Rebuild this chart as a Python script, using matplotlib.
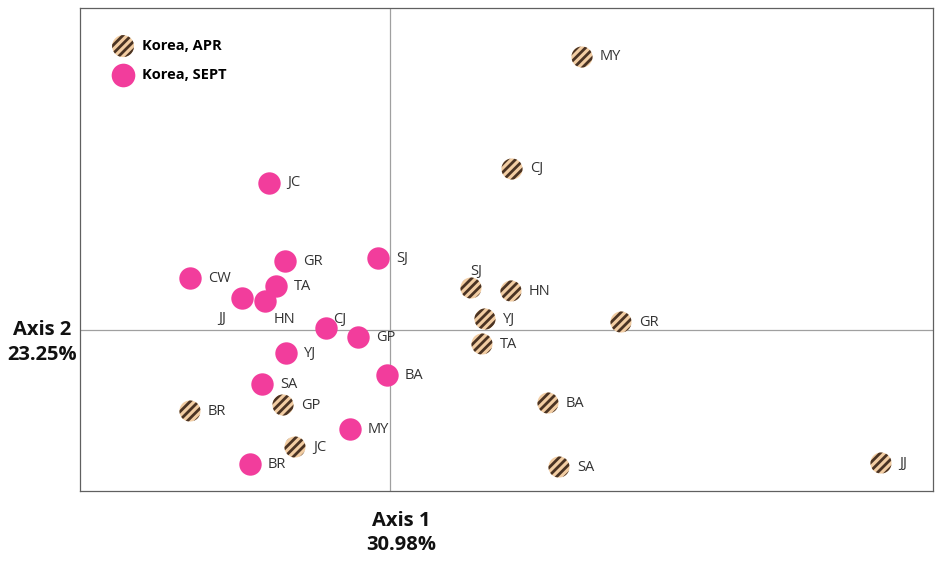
"""PCoA-style scatter of Korea sites, APR vs SEPT."""
import matplotlib
matplotlib.use("Agg")
import matplotlib.pyplot as plt

plt.rcParams['font.family'] = ['Open Sans', 'DejaVu Sans']
plt.rcParams['hatch.linewidth'] = 2.0

# APR samples (axis 1, axis 2)
apr_labels = ["MY", "CJ", "SJ", "HN", "YJ", "GR", "TA", "BA", "SA", "JJ", "BR", "GP", "JC"]
apr_x = [1.92, 1.22, 0.81, 1.21, 0.95, 2.31, 0.92, 1.58, 1.69, 4.91, -2.00, -1.07, -0.95]
apr_y = [2.73, 1.61, 0.42, 0.39, 0.11, 0.08, -0.14, -0.73, -1.37, -1.33, -0.81, -0.75, -1.17]

# SEPT samples
sept_labels = ["JC", "SJ", "GR", "CW", "TA", "JJ", "HN", "CJ", "GP", "YJ", "BA", "SA", "MY", "BR"]
sept_x = [-1.21, -0.12, -1.05, -2.00, -1.14, -1.48, -1.25, -0.64, -0.32, -1.04, -0.03, -1.28, -0.40, -1.40]
sept_y = [1.47, 0.72, 0.69, 0.52, 0.44, 0.32, 0.29, 0.02, -0.07, -0.23, -0.45, -0.54, -0.99, -1.34]

# label offsets in points (dx, dy, ha) where default right placement does not fit
apr_off = {"SJ": (4, 12, "center")}
sept_off = {"JJ": (-14, -15, "center"), "HN": (14, -13, "center"), "CJ": (5, 6, "left")}

APR_FACE = '#f2cda3'
APR_HATCH = '#4a3323'
PINK = '#f23d9c'

fig = plt.figure(figsize=(9.43, 5.62), dpi=100)
ax = fig.add_axes([0.0848, 0.1263, 0.9046, 0.8595])
ax.set_xlim(-3.10, 5.43)
ax.set_ylim(-1.61, 3.22)
ax.axhline(0, color='#a0a0a0', lw=0.9, zorder=0)
ax.axvline(0, color='#a0a0a0', lw=0.9, zorder=0)
ax.set_xticks([])
ax.set_yticks([])
for s in ax.spines.values():
    s.set_color('#606060')
    s.set_linewidth(0.9)

sc_apr = ax.scatter(apr_x, apr_y, s=230, facecolor=APR_FACE, edgecolor=APR_HATCH,
                    linewidth=0, hatch='////', zorder=3, label='Korea, APR')
sc_sept = ax.scatter(sept_x, sept_y, s=260, color=PINK, linewidth=0, zorder=3,
                     label='Korea, SEPT')


def put_labels(xs, ys, labels, off):
    for x, y, t in zip(xs, ys, labels):
        dx, dy, ha = off.get(t, (13, 0, "left"))
        ax.annotate(t, (x, y), xytext=(dx, dy), textcoords='offset points',
                    ha=ha, va='center', fontsize=10.5, color='#333333', zorder=4)


put_labels(apr_x, apr_y, apr_labels, apr_off)
put_labels(sept_x, sept_y, sept_labels, sept_off)

leg = ax.legend(handles=[sc_apr, sc_sept], loc='upper left', frameon=False,
                bbox_to_anchor=(0.030, 0.948), borderaxespad=0,
                prop={'weight': 'bold', 'size': 10.5}, handletextpad=0.5,
                labelspacing=1.0, handlelength=1.6, scatterpoints=1)
leg.legend_handles[0].set_sizes([250])
leg.legend_handles[1].set_sizes([290])
leg.legend_handles[0].set_hatch('////')
leg.legend_handles[0].set_edgecolor(APR_HATCH)
leg.legend_handles[0].set_linewidth(0)

fig.text(0.425, 0.052, "Axis 1\n30.98%", ha='center', va='center',
         fontsize=14.5, fontweight='bold', color='#111111', linespacing=1.3)
fig.text(0.045, 0.391, "Axis 2\n23.25%", ha='center', va='center',
         fontsize=14.5, fontweight='bold', color='#111111', linespacing=1.35)

fig.savefig("out.png", dpi=100)
